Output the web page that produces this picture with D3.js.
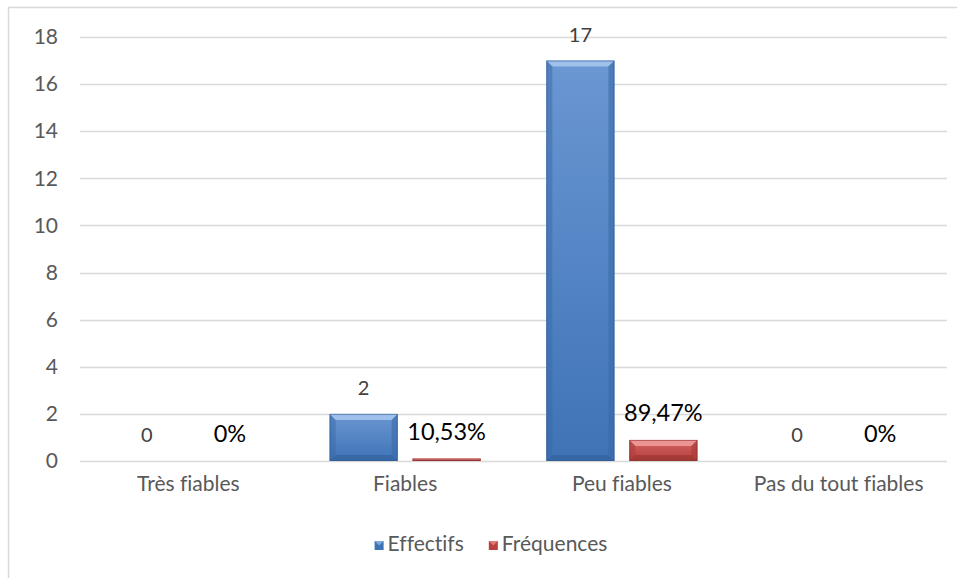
<!DOCTYPE html>
<html><head><meta charset="utf-8">
<script src="https://cdn.jsdelivr.net/npm/d3@7"></script>
<style>body{margin:0;background:#fff}svg{display:block}text{font-family:Lato,"Open Sans",sans-serif;font-variant-ligatures:none}</style>
</head><body>
<svg id="c" width="957" height="578"></svg>
<script>
const categories = ["Très fiables", "Fiables", "Peu fiables", "Pas du tout fiables"];
const series = ["Effectifs", "Fréquences"];
const effectifs = [0, 2, 17, 0];
const frequences = [0, 0.1053, 0.8947, 0];
const freqLabels = ["0%", "10,53%", "89,47%", "0%"];
const yTicks = [0, 2, 4, 6, 8, 10, 12, 14, 16, 18];

const svg = d3.select("#c");
const W = 957, H = 578;
const plotL = 80, plotR = 947, plotT = 37, plotB = 461;

// chart border (top & left visible)
svg.append("line").attr("x1", 8).attr("x2", W).attr("y1", 7.5).attr("y2", 7.5).attr("stroke", "#d9d9d9").attr("stroke-width", 1.5);
svg.append("line").attr("x1", 8.5).attr("x2", 8.5).attr("y1", 7).attr("y2", H).attr("stroke", "#d9d9d9").attr("stroke-width", 1.5);

const y = d3.scaleLinear().domain([0, 18]).range([plotB, plotT]);
const x0 = d3.scaleBand().domain(categories).range([plotL, plotR]).padding(0);
const x1 = d3.scaleBand().domain(series).range([0, x0.bandwidth()]).paddingInner(0.18).paddingOuter(0.396);

// gridlines
svg.append("g").selectAll("line").data(yTicks).join("line")
  .attr("x1", plotL).attr("x2", plotR)
  .attr("y1", d => Math.round(y(d)) + 0.5).attr("y2", d => Math.round(y(d)) + 0.5)
  .attr("stroke", "#d9d9d9").attr("stroke-width", 1.3);

// y axis labels
const yAxis = d3.axisLeft(y).tickValues(yTicks).tickSize(0).tickPadding(0);
const ga = svg.append("g").attr("transform", `translate(58,0)`).call(yAxis);
ga.select(".domain").remove();
ga.selectAll("text").attr("font-size", 21).attr("fill", "#595959").attr("font-family", "Lato");

// x axis labels
const xAxis = d3.axisBottom(x0).tickSize(0).tickPadding(0);
const gx = svg.append("g").attr("transform", `translate(0,476)`).call(xAxis);
gx.select(".domain").remove();
gx.selectAll("text").attr("font-size", 21).attr("fill", "#595959").attr("font-family", "Lato").attr("dy", "0.71em");

// gradients
const defs = svg.append("defs");
function grad(id, c1, c2) {
  const g = defs.append("linearGradient").attr("id", id).attr("x1", 0).attr("x2", 0).attr("y1", 0).attr("y2", 1);
  g.append("stop").attr("offset", "0%").attr("stop-color", c1);
  g.append("stop").attr("offset", "100%").attr("stop-color", c2);
}
grad("gBlue", "#6b97d3", "#3e73b6");
grad("gRed", "#d36360", "#b8403d");
const styles = {
  "Effectifs": {fill: "url(#gBlue)", top: "#a9c8ee", side: "#3a6aa8", bottom: "#2f5a92", edge: "#2d5a94"},
  "Fréquences": {fill: "url(#gRed)", top: "#f0a09e", side: "#a93a37", bottom: "#8e2e2c", edge: "#8c302d"}
};

const rows = [];
categories.forEach((c, i) => {
  rows.push({cat: c, s: "Effectifs", v: effectifs[i], label: String(effectifs[i])});
  rows.push({cat: c, s: "Fréquences", v: frequences[i], label: freqLabels[i]});
});

const bars = svg.append("g");
rows.forEach(d => {
  if (d.v <= 0) return;
  const bx = x0(d.cat) + x1(d.s), bw = x1.bandwidth();
  const by = y(d.v), bh = y(0) - y(d.v);
  const st = styles[d.s];
  const g = bars.append("g");
  g.append("rect").attr("x", bx).attr("y", by).attr("width", bw).attr("height", bh).attr("fill", st.fill);
  const b = Math.min(6, bh / 2);
  g.append("path").attr("d", `M${bx},${by}L${bx + bw},${by}L${bx + bw - b},${by + b}L${bx + b},${by + b}Z`).attr("fill", st.top).attr("opacity", 0.85);
  g.append("path").attr("d", `M${bx},${by}L${bx + b},${by + b}L${bx + b},${by + bh - b}L${bx},${by + bh}Z`).attr("fill", st.side).attr("opacity", 0.5);
  g.append("path").attr("d", `M${bx + bw},${by}L${bx + bw - b},${by + b}L${bx + bw - b},${by + bh - b}L${bx + bw},${by + bh}Z`).attr("fill", st.side).attr("opacity", 0.6);
  g.append("path").attr("d", `M${bx},${by + bh}L${bx + b},${by + bh - b}L${bx + bw - b},${by + bh - b}L${bx + bw},${by + bh}Z`).attr("fill", st.bottom).attr("opacity", 0.5);
  g.append("rect").attr("x", bx + 0.5).attr("y", by + 0.5).attr("width", bw - 1).attr("height", Math.max(0, bh - 1)).attr("fill", "none").attr("stroke", st.edge).attr("stroke-width", 1).attr("opacity", 0.6);
});

// data labels
svg.append("g").selectAll("text").data(rows).join("text")
  .attr("x", d => x0(d.cat) + x1(d.s) + x1.bandwidth() / 2)
  .attr("y", d => y(d.v) - 19)
  .attr("text-anchor", "middle")
  .attr("font-size", d => d.s === "Effectifs" ? 20 : 23.5)
  .attr("fill", d => d.s === "Effectifs" ? "#404040" : "#000")
  .text(d => d.label);

// legend
const leg = svg.append("g");
const legColors = {"Effectifs": ["#7fa8dc", "#3e73b6"], "Fréquences": ["#e07a78", "#b8403d"]};
let lx = 0;
series.forEach(s => {
  const g = leg.append("g");
  g.append("rect").attr("x", 0).attr("y", -10).attr("width", 9).attr("height", 9).attr("fill", legColors[s][1]);
  g.append("path").attr("d", "M0,-10L9,-10L4.5,-5.5Z").attr("fill", legColors[s][0]);
  const t = g.append("text").attr("x", 13).attr("y", 0).attr("font-size", 21).attr("fill", "#595959").text(s);
  const w = 13 + t.node().getComputedTextLength();
  g.attr("transform", `translate(${lx},0)`);
  lx += w + 25;
});
const totalW = lx - 25;
leg.attr("transform", `translate(${491 - totalW / 2},551)`);
</script>
</body></html>
